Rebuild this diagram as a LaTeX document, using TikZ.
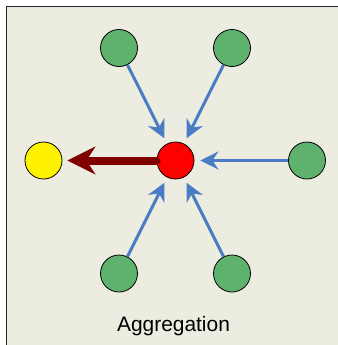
\documentclass[tikz,border=0pt]{standalone}
\usepackage{fontspec}
\setmainfont{Liberation Sans}
\usetikzlibrary{arrows.meta}
\definecolor{bgc}{HTML}{ECECE1}
\definecolor{gfill}{HTML}{5FB26E}
\definecolor{bline}{HTML}{4A7CC6}
\definecolor{dred}{HTML}{800000}
\tikzset{
  ball/.style={circle,draw=black,line width=0.8bp,minimum size=37bp,inner sep=0pt},
  leaf/.style={ball,fill=gfill},
  feed/.style={draw=bline,line width=3bp,shorten >=6bp,-{Stealth[length=18bp,width=18bp,inset=6bp]}},
  outarrow/.style={draw=dred,line width=8bp,line cap=round,shorten >=5bp,-{Stealth[length=28bp,width=28bp,inset=9bp]}}
}
\begin{document}
\begin{tikzpicture}[x=1bp,y=-1bp]
\useasboundingbox (0,0) rectangle (338,345);
\fill[bgc] (6,6) rectangle (338,345);
\draw[line width=1.5bp,black!85] (6.5,345) -- (6.5,6.5) -- (338,6.5);
\node[ball,fill=red] (c) at (175.5,160.5) {};
\node[ball,fill=yellow] (y) at (43.5,160.5) {};
\node[leaf] (g1) at (119,48) {};
\node[leaf] (g2) at (232,48) {};
\node[leaf] (g3) at (307,160.5) {};
\node[leaf] (g4) at (119,273.5) {};
\node[leaf] (g5) at (232,273.5) {};
\draw[feed] (g1) -- (c);
\draw[feed] (g2) -- (c);
\draw[feed] (g3) -- (c);
\draw[feed] (g4) -- (c);
\draw[feed] (g5) -- (c);
\draw[outarrow] (c) -- (y);
\node[anchor=base,font=\fontsize{21}{25}\selectfont] (lbl) at (173.5,331) {Aggregation};
\end{tikzpicture}
\end{document}
